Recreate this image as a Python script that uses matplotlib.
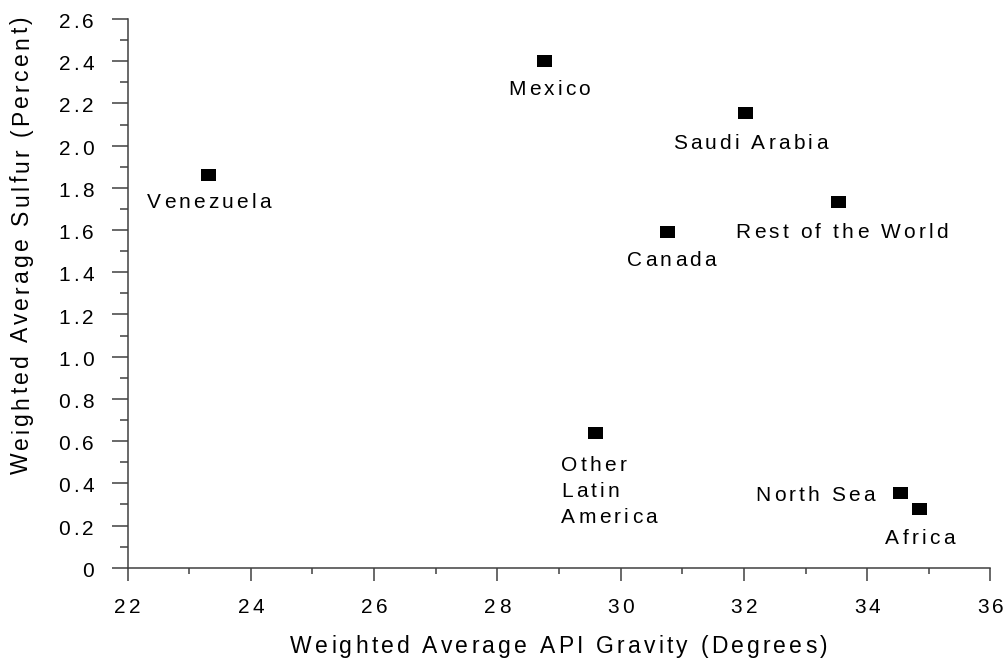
import matplotlib
matplotlib.use("Agg")
import matplotlib.pyplot as plt
from matplotlib import font_manager
from matplotlib.ft2font import FT2Font
from matplotlib.ticker import MultipleLocator

# дані: регіон, середня API густина, середній вміст сірки
regions = ["Venezuela", "Mexico", "Saudi Arabia", "Rest of the World", "Canada",
           "Other\nLatin\nAmerica", "North Sea", "Africa"]
api_gravity = [23.30, 28.76, 32.02, 33.52, 30.76, 29.59, 34.53, 34.84]
sulfur = [1.86, 2.40, 2.155, 1.735, 1.59, 0.64, 0.355, 0.28]

x_ticks = [22, 24, 26, 28, 30, 32, 34, 36]
y_ticks = [0, 0.2, 0.4, 0.6, 0.8, 1.0, 1.2, 1.4, 1.6, 1.8, 2.0, 2.2, 2.4, 2.6]
y_tick_labels = ["0", "0.2", "0.4", "0.6", "0.8", "1.0", "1.2", "1.4", "1.6",
                 "1.8", "2.0", "2.2", "2.4", "2.6"]

# де стоїть підпис відносно маркера (вирівнювання, зсув у пунктах)
label_pos = [("center", 0.7, -23.8), ("center", 3.6, -24.5), ("center", 3.6, -25.9),
             ("center", 2.9, -25.9), ("center", 2.9, -24.5), ("left", -24.5, -27.4),
             ("right", -18.0, -5.8), ("center", 0.7, -25.2)]

FONT = "Liberation Sans"
TRACK = 2.3  # додатковий інтервал між літерами, пт
font_file = font_manager.findfont(font_manager.FontProperties(family=FONT))


def advances(s, size):
    f = FT2Font(font_file)
    f.set_size(size, 72)
    return [f.load_char(ord(c)).linearHoriAdvance / 65536 for c in s]


def tracked(ax, xy, s, size, dx=0, dy=0, ha="center", rot=0, coords="data"):
    # текст з розрідженими літерами (по одній літері)
    adv = advances(s, size)
    total = sum(adv) + TRACK * (len(s) - 1)
    pos = {"left": 0, "center": -total / 2, "right": -total}[ha]
    for c, a in zip(s, adv):
        if c != " ":
            along = pos + a / 2
            off = (dx + along, dy) if rot == 0 else (dx, dy + along)
            ax.annotate(c, xy, xycoords=coords, xytext=off, textcoords="offset points",
                        ha="center", va="baseline", rotation=rot, rotation_mode="anchor",
                        fontsize=size, family=FONT, color="black")
        pos += a + TRACK


fig = plt.figure(figsize=(10.08, 6.63), dpi=100)
ax = fig.add_axes([0.1265, 0.1437, 0.8561, 0.8276])

box = [(-1, -0.85), (1, -0.85), (1, 0.85), (-1, 0.85)]
ax.plot(api_gravity, sulfur, linestyle="none", marker=box, markersize=10.8,
        color="black", markeredgewidth=0)

ax.set_xlim(22, 36)
ax.set_ylim(0, 2.6)
ax.set_xticks(x_ticks)
ax.set_yticks(y_ticks)
ax.xaxis.set_minor_locator(MultipleLocator(1))
ax.yaxis.set_minor_locator(MultipleLocator(0.1))
for s in ["top", "right"]:
    ax.spines[s].set_visible(False)
for s in ["left", "bottom"]:
    ax.spines[s].set_color("#404040")
    ax.spines[s].set_linewidth(1.1)
ax.tick_params(which="both", direction="out", color="#404040", width=1.1,
               labelbottom=False, labelleft=False)
ax.tick_params(axis="y", which="major", length=11.5)
ax.tick_params(axis="y", which="minor", length=5.5)
ax.tick_params(axis="x", which="major", length=9)
ax.tick_params(axis="x", which="minor", length=4)

# підписи поділок
for t in x_ticks:
    tracked(ax, (t, 0), str(t), 15, dy=-32.6, coords=ax.get_xaxis_transform())
for v, lab in zip(y_ticks, y_tick_labels):
    tracked(ax, (0, v), lab, 15, dx=-24.1, dy=-6.5, ha="right",
            coords=ax.get_yaxis_transform())

# назви осей
tracked(ax, (0.5, 0), "Weighted Average API Gravity (Degrees)", 16.5, dy=-61.6,
        coords="axes fraction")
tracked(ax, (0, 0.588), "Weighted Average Sulfur (Percent)", 16.5, dx=-71.6, rot=90,
        coords="axes fraction")

# підписи точок
for name, x, y, (ha, dx, dy) in zip(regions, api_gravity, sulfur, label_pos):
    for i, line in enumerate(name.split("\n")):
        tracked(ax, (x, y), line, 15, dx=dx, dy=dy - 19 * i, ha=ha)

fig.savefig("out.png", dpi=100)
